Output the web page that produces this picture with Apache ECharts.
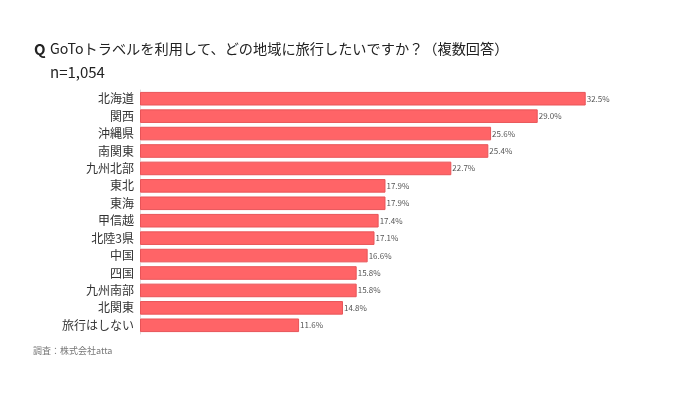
<!DOCTYPE html>
<html><head><meta charset="utf-8">
<script src="https://cdn.jsdelivr.net/npm/echarts@6/dist/echarts.min.js"></script>
<style>html,body{margin:0;padding:0;background:#fff}#c{width:700px;height:394px}</style>
</head><body><div id="c"></div>
<script>
const categories = ['北海道','関西','沖縄県','南関東','九州北部','東北','東海','甲信越','北陸3県','中国','四国','九州南部','北関東','旅行はしない'];
const values = [32.5,29.0,25.6,25.4,22.7,17.9,17.9,17.4,17.1,16.6,15.8,15.8,14.8,11.6];
const titleText = 'GoToトラベルを利用して、どの地域に旅行したいですか？（複数回答）';
const subText = 'n=1,054';
const sourceText = '調査：株式会社atta';
const font = '"Noto Sans CJK JP", "Noto Sans", sans-serif';
const chart = echarts.init(document.getElementById('c'));
chart.setOption({
  animation: false,
  backgroundColor: '#fff',
  graphic: [
    {type:'text', left: 34, top: 42, style:{text:'Q', font:'bold 15px '+font, fill:'#222'}},
    {type:'text', left: 50, top: 42, style:{text:titleText, font:'14.2px '+font, fill:'#222'}},
    {type:'text', left: 50, top: 65, style:{text:subText, font:'15px '+font, fill:'#222'}},
    {type:'text', left: 33, top: 346, style:{text:sourceText, font:'9px '+font, fill:'#777'}}
  ],
  grid: {left: 140, top: 90, width: 480, height: 244, containLabel: false},
  xAxis: {type:'value', min:0, max:35, show:false},
  yAxis: {
    type:'category', data: categories, inverse: true,
    axisLine:{show:true, lineStyle:{color:'#ddd', width:1}},
    axisTick:{show:false},
    axisLabel:{color:'#333', fontSize:12, fontFamily:font, margin:6}
  },
  series: [{
    type:'bar', data: values, barWidth: '78%',
    itemStyle:{color:'#ff6467', borderColor:'#e85458', borderWidth:1},
    label:{show:true, position:'right', distance:1, formatter: p => p.value.toFixed(1)+'%', color:'#555', fontSize:8, fontFamily:font}
  }]
});
</script></body></html>
